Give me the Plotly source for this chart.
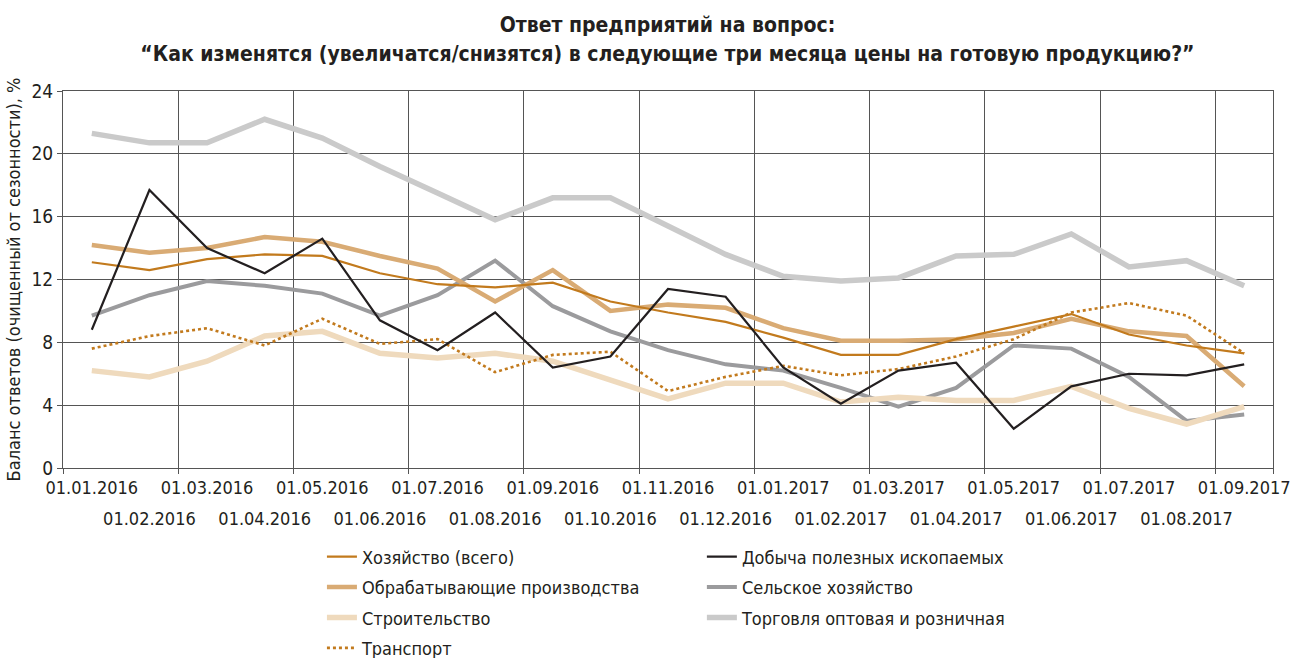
import plotly.graph_objects as go

# Monthly survey dates (x categories)
dates = [
    "01.01.2016", "01.02.2016", "01.03.2016", "01.04.2016", "01.05.2016",
    "01.06.2016", "01.07.2016", "01.08.2016", "01.09.2016", "01.10.2016",
    "01.11.2016", "01.12.2016", "01.01.2017", "01.02.2017", "01.03.2017",
    "01.04.2017", "01.05.2017", "01.06.2017", "01.07.2017", "01.08.2017",
    "01.09.2017",
]

# Seasonally adjusted balance of answers, %
khozyaystvo = [13.1, 12.6, 13.3, 13.6, 13.5, 12.4, 11.7, 11.5, 11.8, 10.6, 9.9,
               9.3, 8.3, 7.2, 7.2, 8.2, 9.0, 9.8, 8.5, 7.8, 7.3]
obrabatyvayushchie = [14.2, 13.7, 14.0, 14.7, 14.4, 13.5, 12.7, 10.6, 12.6, 10.0, 10.4,
                      10.2, 8.9, 8.1, 8.1, 8.2, 8.6, 9.5, 8.7, 8.4, 5.2]
stroitelstvo = [6.2, 5.8, 6.8, 8.4, 8.7, 7.3, 7.0, 7.3, 6.8, 5.6, 4.4,
                5.4, 5.4, 4.2, 4.5, 4.3, 4.3, 5.2, 3.8, 2.8, 3.9]
transport = [7.6, 8.4, 8.9, 7.8, 9.5, 7.9, 8.2, 6.1, 7.2, 7.4, 4.9,
             5.8, 6.5, 5.9, 6.3, 7.1, 8.2, 9.9, 10.5, 9.7, 7.3]
dobycha = [8.8, 17.7, 14.0, 12.4, 14.6, 9.4, 7.5, 9.9, 6.4, 7.1, 11.4,
           10.9, 6.4, 4.1, 6.2, 6.7, 2.5, 5.2, 6.0, 5.9, 6.6]
selskoe = [9.7, 11.0, 11.9, 11.6, 11.1, 9.7, 11.0, 13.2, 10.3, 8.7, 7.5,
           6.6, 6.2, 5.1, 3.9, 5.1, 7.8, 7.6, 5.8, 3.0, 3.4]
torgovlya = [21.3, 20.7, 20.7, 22.2, 21.0, 19.2, 17.5, 15.8, 17.2, 17.2, 15.4,
             13.6, 12.2, 11.9, 12.1, 13.5, 13.6, 14.9, 12.8, 13.2, 11.6]

y_ticks = [0, 4, 8, 12, 16, 20, 24]

FONT = "Liberation Sans Narrow, DejaVu Sans Condensed, Roboto Condensed, Arial Narrow, Roboto, sans-serif"
TEXT = "#231f20"
GRID = "#555555"

fig = go.Figure()


def add_line(name, values, color, width, dash="solid", legend="legend", rank=1, xaxis="x"):
    fig.add_trace(go.Scatter(
        x=dates, y=values, name=name, mode="lines",
        line=dict(color=color, width=width, dash=dash),
        legend=legend, legendrank=rank, legendgroup=name, xaxis=xaxis,
    ))


# drawing order: light/heavy background series first, thin lines on top
add_line("Торговля оптовая и розничная", torgovlya, "#cacaca", 5.5, legend="legend2", rank=3, xaxis="x2")
add_line("Сельское хозяйство", selskoe, "#9b9b9d", 4, legend="legend2", rank=2)
add_line("Строительство", stroitelstvo, "#efdabd", 5.5, rank=3)
add_line("Обрабатывающие производства", obrabatyvayushchie, "#d9ab74", 4.5, rank=2)
add_line("Хозяйство (всего)", khozyaystvo, "#c27a1d", 2.2, rank=1)
add_line("Транспорт", transport, "#c27a1d", 2.6, dash="dot", rank=4)
add_line("Добыча полезных ископаемых", dobycha, "#231f20", 2.2, legend="legend2", rank=1)

even_dates = dates[0::2]
odd_dates = dates[1::2]

legend_common = dict(
    font=dict(family=FONT, size=18, color=TEXT),
    bgcolor="rgba(0,0,0,0)", borderwidth=0,
    orientation="v", yanchor="top", xanchor="left",
    tracegroupgap=4, itemwidth=30,
)

title_text = (
    "<span style='font-size:21px'>Ответ предприятий на вопрос:</span><br>"
    "<span style='font-size:21px'>“Как изменятся (увеличатся/снизятся) в следующие три месяца "
    "цены на готовую продукцию?”</span>"
)

fig.update_layout(
    width=1291, height=658,
    margin=dict(l=63, r=18, t=91, b=190, autoexpand=False),
    paper_bgcolor="white", plot_bgcolor="white",
    font=dict(family=FONT, size=18, color=TEXT),
    title=dict(
        text=title_text,
        font=dict(family=FONT, size=23, color=TEXT, weight="bold"),
        x=0.517, xanchor="center", y=0.952, yanchor="top",
    ),
    xaxis=dict(
        type="category", categoryorder="array", categoryarray=dates,
        tickson="boundaries", tickmode="array", tickvals=even_dates, ticktext=even_dates,
        tickangle=0, automargin=False, ticklabelstandoff=3,
        showgrid=True, gridcolor=GRID, gridwidth=1,
        ticks="outside", ticklen=5, tickcolor=GRID,
        showline=True, linecolor=GRID, linewidth=1, mirror=True,
        tickfont=dict(family=FONT, size=18, color=TEXT),
        range=[-0.5, 20.5],
    ),
    xaxis2=dict(
        type="category", categoryorder="array", categoryarray=dates,
        overlaying="x", matches="x", anchor="y", side="bottom",
        tickmode="array", tickvals=odd_dates, ticktext=odd_dates,
        tickangle=0, automargin=False,
        showgrid=False, ticks="", showline=False,
        ticklabelstandoff=38,
        tickfont=dict(family=FONT, size=18, color=TEXT),
    ),
    yaxis=dict(
        range=[0, 24], tickvals=y_ticks, automargin=False,
        showgrid=True, gridcolor=GRID, gridwidth=1,
        ticks="outside", ticklen=5, tickcolor=GRID,
        showline=True, linecolor=GRID, linewidth=1, mirror=True,
        zeroline=False,
        tickfont=dict(family=FONT, size=19, color=TEXT),
        title=dict(text="Баланс ответов (очищенный от сезонности), %",
                   font=dict(family=FONT, size=18, color=TEXT), standoff=6),
    ),
    legend=dict(x=0.214, y=-0.187, **legend_common),
    legend2=dict(x=0.528, y=-0.187, **legend_common),
    showlegend=True,
)

fig.write_html("out.html")
